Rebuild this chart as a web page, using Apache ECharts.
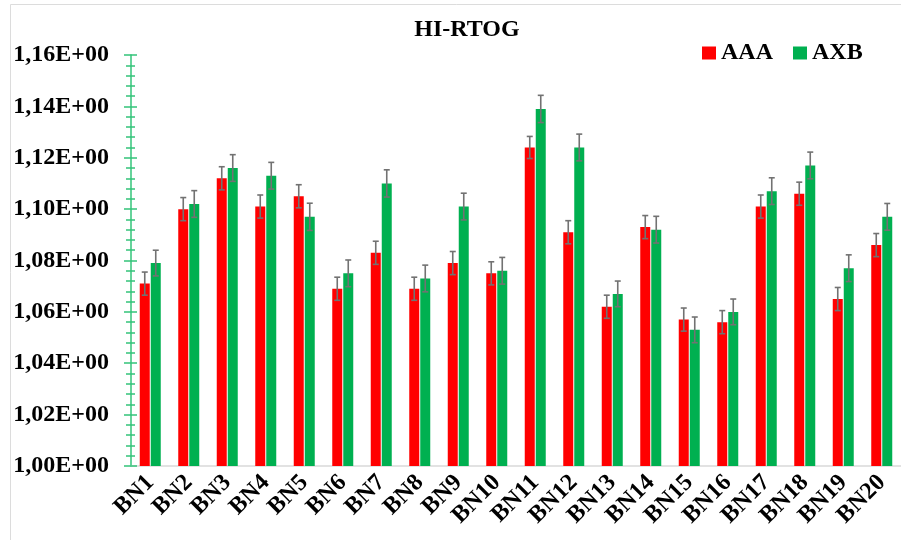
<!DOCTYPE html>
<html>
<head>
<meta charset="utf-8">
<title>HI-RTOG</title>
<script src="https://cdn.jsdelivr.net/npm/echarts@6/dist/echarts.min.js"></script>
<style>
  html, body { margin: 0; padding: 0; background: #ffffff; }
  #chart { width: 901px; height: 540px; }
</style>
</head>
<body>
<div id="chart"></div>
<script>
// Homogeneity index (RTOG) per plan, two dose algorithms
const categories = ['BN1','BN2','BN3','BN4','BN5','BN6','BN7','BN8','BN9','BN10',
                    'BN11','BN12','BN13','BN14','BN15','BN16','BN17','BN18','BN19','BN20'];
const aaaValues = [1.071, 1.100, 1.112, 1.101, 1.105, 1.069, 1.083, 1.069, 1.079, 1.075,
                   1.124, 1.091, 1.062, 1.093, 1.057, 1.056, 1.101, 1.106, 1.065, 1.086];
const axbValues = [1.079, 1.102, 1.116, 1.113, 1.097, 1.075, 1.110, 1.073, 1.101, 1.076,
                   1.139, 1.124, 1.067, 1.092, 1.053, 1.060, 1.107, 1.117, 1.077, 1.097];
const aaaErrors = [0.0045, 0.0045, 0.0045, 0.0045, 0.0045, 0.0045, 0.0045, 0.0045, 0.0045, 0.0045,
                   0.0043, 0.0045, 0.0045, 0.0045, 0.0045, 0.0045, 0.0045, 0.0045, 0.0045, 0.0045];
const axbErrors = [0.0050, 0.0052, 0.0052, 0.0052, 0.0053, 0.0052, 0.0053, 0.0052, 0.0052, 0.0052,
                   0.0053, 0.0052, 0.0050, 0.0052, 0.0050, 0.0050, 0.0052, 0.0052, 0.0052, 0.0052];
const yTicks = { min: 1.00, max: 1.16, interval: 0.02 };

const BAR_W = 10;
const BAR_GAP = 1;
const RED = '#ff0000';
const GREEN = '#00b050';
const AXIS_GREEN = '#33c47a';
const FONT = '"Liberation Serif", "Times New Roman", serif';

function errorRows(values, errors) {
  return values.map((v, i) => [i, v, errors[i]]);
}

function errorBarRenderer(side) {
  return function (params, api) {
    const idx = api.value(0);
    const v = api.value(1);
    const e = api.value(2);
    const shift = side * (BAR_W + BAR_GAP) / 2;
    const hi = api.coord([idx, v + e]);
    const lo = api.coord([idx, v - e]);
    const x = hi[0] + shift;
    const cap = 3;
    const style = { stroke: '#727272', lineWidth: 1.6 };
    return {
      type: 'group',
      children: [
        { type: 'line', shape: { x1: x, y1: hi[1], x2: x, y2: lo[1] }, style },
        { type: 'line', shape: { x1: x - cap, y1: hi[1], x2: x + cap, y2: hi[1] }, style },
        { type: 'line', shape: { x1: x - cap, y1: lo[1], x2: x + cap, y2: lo[1] }, style }
      ]
    };
  };
}

const chart = echarts.init(document.getElementById('chart'), null, { renderer: 'canvas' });

chart.setOption({
  animation: false,
  backgroundColor: '#ffffff',
  graphic: [{
    type: 'rect',
    silent: true,
    shape: { x: 10.5, y: 4.5, width: 900, height: 540 },
    style: { fill: 'none', stroke: '#dcdcdc', lineWidth: 1 }
  }],
  title: {
    text: 'HI-RTOG',
    left: 462,
    top: 13,
    textAlign: 'center',
    textStyle: { fontFamily: FONT, fontWeight: 'bold', fontSize: 24, color: '#000' }
  },
  legend: {
    left: 697,
    top: 36,
    itemWidth: 14,
    itemHeight: 13,
    itemGap: 20,
    icon: 'rect',
    data: ['AAA', 'AXB'],
    textStyle: { fontFamily: FONT, fontWeight: 'bold', fontSize: 24, color: '#000', padding: [0, 0, 0, 0] }
  },
  grid: { left: 131, right: -10, top: 55, bottom: 74 },
  xAxis: {
    type: 'category',
    data: categories,
    axisLine: { show: true, lineStyle: { color: '#d9d9d9', width: 1.5 } },
    axisTick: { show: false },
    axisLabel: {
      rotate: 45,
      margin: 13,
      interval: 0,
      fontFamily: FONT,
      fontWeight: 'bold',
      fontSize: 24,
      color: '#000'
    }
  },
  yAxis: [{
    type: 'value',
    position: 'left',
    min: yTicks.min,
    max: yTicks.max,
    interval: yTicks.interval,
    axisLine: { show: true, lineStyle: { color: AXIS_GREEN, width: 1.5 } },
    axisTick: { show: true, length: 7, lineStyle: { color: AXIS_GREEN, width: 1.5 } },
    minorTick: { show: true, splitNumber: 5, length: 5, lineStyle: { color: AXIS_GREEN, width: 1.5 } },
    splitLine: { show: false },
    axisLabel: {
      margin: 22,
      fontFamily: FONT,
      fontWeight: 'bold',
      fontSize: 24,
      color: '#000',
      formatter: v => v.toFixed(2).replace('.', ',') + 'E+00'
    }
  }, {
    // inner half of the ticks, so they straddle the axis line
    type: 'value',
    position: 'left',
    min: yTicks.min,
    max: yTicks.max,
    interval: yTicks.interval,
    axisLine: { show: false },
    axisTick: { show: true, inside: true, length: 6, lineStyle: { color: AXIS_GREEN, width: 1.5 } },
    minorTick: { show: true, splitNumber: 5, length: 4, lineStyle: { color: AXIS_GREEN, width: 1.5 } },
    splitLine: { show: false },
    axisLabel: { show: false }
  }],
  series: [
    {
      name: 'AAA',
      type: 'bar',
      data: aaaValues,
      barWidth: BAR_W,
      barGap: '10%',
      itemStyle: { color: RED },
      z: 2
    },
    {
      name: 'AXB',
      type: 'bar',
      data: axbValues,
      barWidth: BAR_W,
      barGap: '10%',
      itemStyle: { color: GREEN },
      z: 2
    },
    {
      name: 'AAA error',
      type: 'custom',
      renderItem: errorBarRenderer(-1),
      data: errorRows(aaaValues, aaaErrors),
      encode: { x: 0, y: 1 },
      z: 5,
      silent: true
    },
    {
      name: 'AXB error',
      type: 'custom',
      renderItem: errorBarRenderer(1),
      data: errorRows(axbValues, axbErrors),
      encode: { x: 0, y: 1 },
      z: 5,
      silent: true
    }
  ]
});
</script>
</body>
</html>
